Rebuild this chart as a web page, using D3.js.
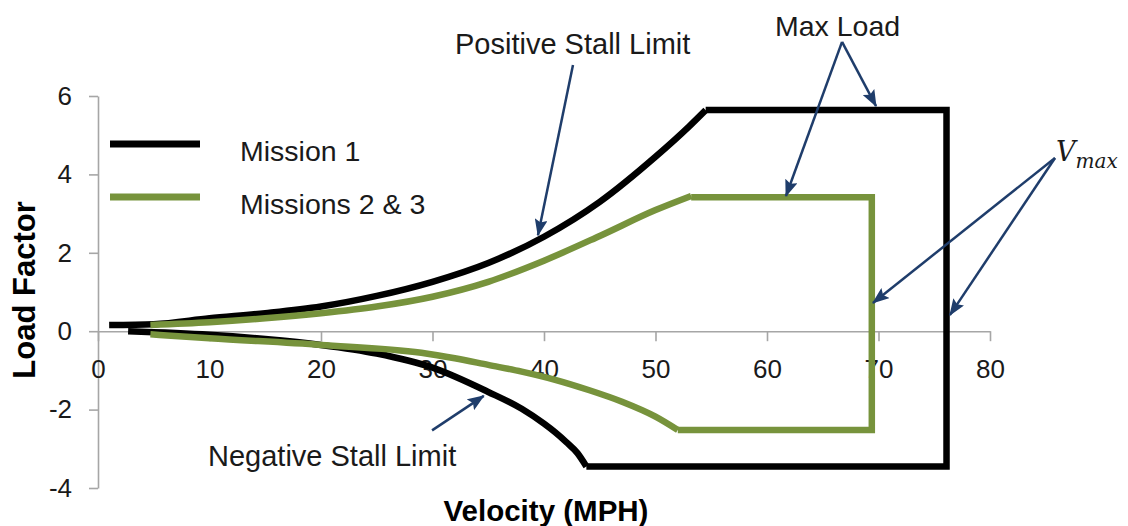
<!DOCTYPE html>
<html>
<head>
<meta charset="utf-8">
<script src="https://cdn.jsdelivr.net/npm/d3@7"></script>
<style>
  html, body { margin: 0; padding: 0; background: #fff; }
  svg { display: block; }
  text { font-family: "Liberation Sans", Arial, sans-serif; }
</style>
</head>
<body>
<svg id="chart" width="1128" height="526"></svg>
<script>
// ---------- data ----------
const xTicks = [0, 10, 20, 30, 40, 50, 60, 70, 80];
const yTicks = [-4, -2, 0, 2, 4, 6];

// Mission 1 (black)
const m1PosV = [1, 5, 10, 15, 20, 25, 30, 35, 40, 45, 50, 53, 54.5];
const m1PosN = [0.16, 0.18, 0.33, 0.46, 0.63, 0.90, 1.26, 1.74, 2.41, 3.30, 4.45, 5.22, 5.64];
const m1NegV = [2.7, 10, 15, 20, 25, 30, 35, 38, 40, 41, 42, 43, 43.8];
const m1NegN = [0.0, -0.09, -0.2, -0.35, -0.57, -0.93, -1.55, -1.98, -2.36, -2.58, -2.83, -3.11, -3.45];
const m1MaxN = 5.64, m1MinN = -3.45, m1Vmax = 76.1;

// Missions 2 & 3 (green)
const m2PosV = [4.7, 10, 15, 20, 25, 30, 35, 40, 45, 50, 53.2];
const m2PosN = [0.16, 0.23, 0.33, 0.46, 0.63, 0.88, 1.26, 1.80, 2.43, 3.09, 3.45];
const m2NegV = [4.7, 10, 20, 29, 32, 35, 38, 41, 44, 47, 50, 52];
const m2NegN = [-0.08, -0.18, -0.35, -0.55, -0.69, -0.86, -1.03, -1.24, -1.50, -1.80, -2.18, -2.52];
const m2MaxN = 3.42, m2MinN = -2.52, m2Vmax = 69.4;

const seriesNames = ["Mission 1", "Missions 2 & 3"];
const seriesColors = ["#000000", "#77933c"];

// annotation arrows in data coordinates: [fromV, fromN, toV, toN]
const arrows = [
  [42.6, 6.79, 39.46, 2.45],   // positive stall limit
  [66.73, 7.38, 61.7, 3.45],   // max load -> green
  [66.73, 7.38, 69.78, 5.74],  // max load -> black
  [85.83, 4.42, 69.5, 0.72],   // Vmax -> green
  [85.83, 4.42, 76.4, 0.41],   // Vmax -> black
  [29.96, -2.53, 34.6, -1.65]  // negative stall limit
];

// ---------- chart ----------
const svg = d3.select("#chart");
const x = d3.scaleLinear().domain([0, 80]).range([98, 990]);
const y = d3.scaleLinear().domain([-4, 6]).range([488, 96]);

const axisColor = "#a6a6a6";
const textColor = "#1a1a1a";

// y axis
const yAxis = svg.append("g")
  .attr("transform", `translate(${x(0)},0)`)
  .call(d3.axisLeft(y).tickValues(yTicks).tickSize(9).tickPadding(17).tickSizeOuter(0)
        .tickFormat(d3.format("d")));
// x axis
const xAxis = svg.append("g")
  .attr("transform", `translate(0,${y(0)})`)
  .call(d3.axisBottom(x).tickValues(xTicks).tickSize(10).tickPadding(18).tickSizeOuter(0)
        .tickFormat(d3.format("d")));

[yAxis, xAxis].forEach(g => {
  g.select(".domain").attr("stroke", axisColor).attr("stroke-width", 1.6);
  g.selectAll(".tick line").attr("stroke", axisColor).attr("stroke-width", 1.6);
  g.selectAll(".tick text").attr("fill", textColor)
    .style("font-family", "Liberation Sans, Arial, sans-serif").style("font-size", "26px");
});
yAxis.selectAll(".tick text").text(d => String(d).replace("\u2212", "-"));

// series
const curve = d3.line().x(d => x(d[0])).y(d => y(d[1])).curve(d3.curveMonotoneX);
const poly = d3.line().x(d => x(d[0])).y(d => y(d[1]));

function drawMission(posV, posN, negV, negN, maxN, minN, vmax, color) {
  const g = svg.append("g")
    .attr("fill", "none").attr("stroke", color).attr("stroke-width", 6.5)
    .attr("stroke-linejoin", "miter").attr("stroke-linecap", "butt");
  const pos = posV.map((v, i) => [v, posN[i]]);
  const neg = negV.map((v, i) => [v, negN[i]]);
  g.append("path").attr("d", curve(pos));
  g.append("path").attr("d", curve(neg));
  g.append("path").attr("d", poly([
    [posV[posV.length - 1], maxN], [vmax, maxN], [vmax, minN], [negV[negV.length - 1], minN]
  ]));
}
drawMission(m1PosV, m1PosN, m1NegV, m1NegN, m1MaxN, m1MinN, m1Vmax, seriesColors[0]);
drawMission(m2PosV, m2PosN, m2NegV, m2NegN, m2MaxN, m2MinN, m2Vmax, seriesColors[1]);

// legend
const legend = svg.append("g");
seriesNames.forEach((name, i) => {
  const ly = 144 + i * 53;
  legend.append("line").attr("x1", 110).attr("x2", 200).attr("y1", ly).attr("y2", ly)
    .attr("stroke", seriesColors[i]).attr("stroke-width", 7);
  legend.append("text").attr("x", 240).attr("y", ly + 17).attr("fill", textColor)
    .style("font-size", "28.5px").text(name);
});

// arrows
const arrowColor = "#1f3d6b";
svg.append("defs").append("marker")
  .attr("id", "ah").attr("markerUnits", "userSpaceOnUse")
  .attr("viewBox", "0 0 17 13").attr("markerWidth", 17).attr("markerHeight", 13)
  .attr("refX", 16).attr("refY", 6.5).attr("orient", "auto")
  .append("path").attr("d", "M0,0 L17,6.5 L0,13 L3,6.5 Z").attr("fill", arrowColor);

svg.append("g").selectAll("line").data(arrows).join("line")
  .attr("x1", d => x(d[0])).attr("y1", d => y(d[1]))
  .attr("x2", d => x(d[2])).attr("y2", d => y(d[3]))
  .attr("stroke", arrowColor).attr("stroke-width", 2.5)
  .attr("marker-end", "url(#ah)");

// annotation text
const ann = svg.append("g").attr("fill", textColor).style("font-size", "29px");
ann.append("text").attr("x", 455).attr("y", 54).text("Positive Stall Limit");
ann.append("text").attr("x", 775).attr("y", 36).style("font-size", "28.5px").text("Max Load");
ann.append("text").attr("x", 208).attr("y", 466).text("Negative Stall Limit");

// V_max
const vm = svg.append("text").attr("x", 1056).attr("y", 161)
  .attr("fill", textColor)
  .style("font-family", "DejaVu Serif, Liberation Serif, serif").style("font-style", "italic");
vm.append("tspan").style("font-size", "27px").text("V");
vm.append("tspan").attr("dy", 7).style("font-size", "20px").text("max");

// axis titles
svg.append("text").attr("x", 546).attr("y", 521)
  .attr("text-anchor", "middle").attr("fill", "#000")
  .style("font-size", "29.5px").style("font-weight", "bold").text("Velocity (MPH)");
svg.append("text").attr("transform", "translate(35,290) rotate(-90)")
  .attr("text-anchor", "middle").attr("fill", "#000")
  .style("font-size", "31px").style("font-weight", "bold").text("Load Factor");
</script>
</body>
</html>
